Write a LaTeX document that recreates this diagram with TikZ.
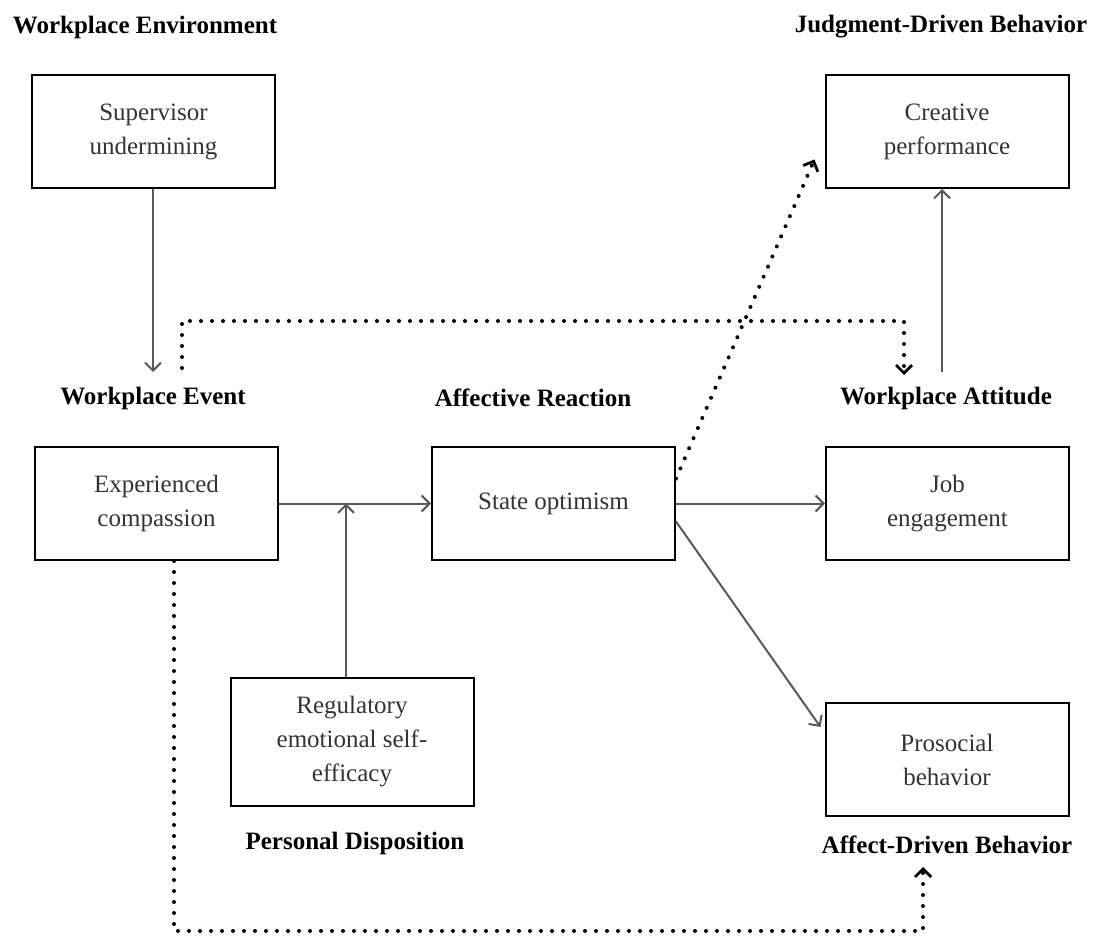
\documentclass[tikz,border=0pt]{standalone}
\usepackage{fontspec}
\setmainfont{Liberation Serif}
\usepackage{tikz}
\usetikzlibrary{arrows.meta, positioning}
\tikzset{
    myarrow/.style={-{Straight Barb[length=4pt,width=8pt]}, draw=black!65, line width=1pt},
    dotarrow/.style={-{Straight Barb[length=4pt,width=8pt,line width=1.4pt]}, line width=2pt, line cap=round, dash pattern=on 0pt off 5.5pt},
    box/.style={draw, rectangle, line width=1pt, font=\fontsize{12.5}{17}\selectfont, text=black!80, minimum width=121.5pt, minimum height=56.5pt, align=center, inner sep=0pt},
    head/.style={font=\fontsize{12.5}{15}\selectfont\bfseries, inner sep=0pt}
}
\begin{document}
\begin{tikzpicture}[x=0.5pt, y=-0.5pt]
    \useasboundingbox (0,0) rectangle (1097,936);
    % boxes
    \node (sup) [box] at (153.5,131.5) {Supervisor\\undermining};
    \node (cre) [box] at (947,131.5) {Creative\\performance};
    \node (exp) [box] at (156.5,503.5) {Experienced\\compassion};
    \node (opt) [box] at (553.5,503.5) {State optimism};
    \node (job) [box] at (947.5,503.5) {Job\\engagement};
    \node (reg) [box, minimum height=64pt] at (352,742) {Regulatory\\emotional self-\\efficacy};
    \node (pro) [box] at (947,759.5) {Prosocial\\behavior};
    % headings
    \node (env) [head] at (145,27) {Workplace Environment};
    \node (jdb) [head] at (941,27) {Judgment-Driven Behavior};
    \node (evt) [head] at (153,398) {Workplace Event};
    \node (aff) [head] at (533,398) {Affective Reaction};
    \node (att) [head] at (946,398) {Workplace Attitude};
    \node (per) [head] at (355,843) {Personal Disposition};
    \node (adb) [head] at (947,845) {Affect-Driven Behavior};
    % free ends
    \coordinate (suptip) at (153,372);
    \coordinate (evtop) at (182,368);
    \coordinate (bend) at (904,321);
    \coordinate (atttip) at (904,375);
    \coordinate (attup) at (942,372);
    \coordinate (low) at (923,931);
    \coordinate (adbtip) at (923,867);
    % connectors
    \draw [myarrow] (sup.south -| suptip) -- (suptip);
    \draw [dotarrow] (evtop) |- (bend) -- (atttip);
    \draw [myarrow] (attup) -- (cre.south -| attup);
    \draw [myarrow] (exp) -- (opt);
    \draw [myarrow] ([xshift=-3pt]reg.north) -- ([xshift=-3pt]reg.north |- exp.east);
    \draw [myarrow] (opt) -- (job);
    \draw [myarrow] ([yshift=-9pt]opt.east) -- ([xshift=-2pt,yshift=-12.5pt]pro.north west);
    \draw [dotarrow] ([yshift=12.5pt]opt.east) -- ([xshift=-5pt,yshift=-14pt]cre.west);
    \draw [dotarrow] (exp.south -| 174,0) |- (low) -- (adbtip);
\end{tikzpicture}
\end{document}
